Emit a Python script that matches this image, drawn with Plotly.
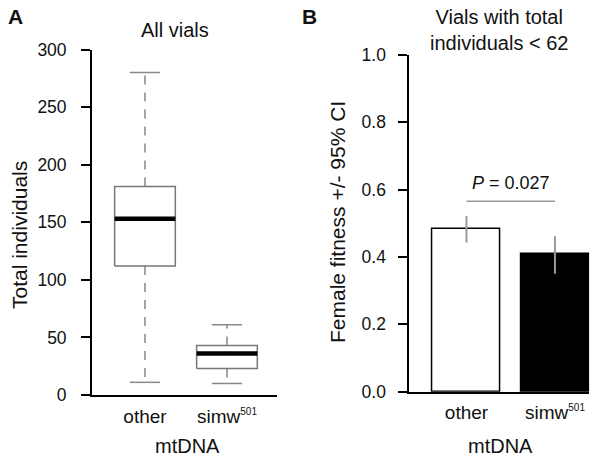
import plotly.graph_objects as go

# ---------------- data ----------------
categories = ["other", "simw<sup><span style='font-size:10px'>501</span></sup>"]
cat_pos = [1, 2]

# Panel A: box-plot summary (Total individuals)
box_lower_whisker = [11, 10]
box_q1 = [112, 23]
box_median = [153, 36]
box_q3 = [181, 43]
box_upper_whisker = [280, 61]
y_ticks_a = [0, 50, 100, 150, 200, 250, 300]

# Panel B: bars (Female fitness +/- 95% CI)
fitness_mean = [0.482, 0.408]
ci_upper = [0.522, 0.462]
ci_lower = [0.443, 0.350]
y_ticks_b = [0.0, 0.2, 0.4, 0.6, 0.8, 1.0]
p_value_label = "<i>P</i> = 0.027"
p_line_y = 0.566

W, H = 600, 461


def px(x):
    return x / W


def py(y):
    return 1 - y / H


FONT = "Liberation Sans, Arial, Helvetica, sans-serif"
TXT = "#111111"
BOX_C = "#777777"
WHISK_C = "#888888"
ERR_C = "#999999"

box_half = 0.37
cap_half = 0.185
bar_width = 0.77

fig = go.Figure()

# ---------- Panel A ----------
for i, x in enumerate(cat_pos):
    for y0, y1 in ((box_q3[i], box_upper_whisker[i]), (box_q1[i], box_lower_whisker[i])):
        fig.add_trace(go.Scatter(x=[x, x], y=[y0, y1], mode="lines",
                                 line=dict(color=WHISK_C, width=1.5, dash="9px,8px"),
                                 xaxis="x", yaxis="y", showlegend=False, hoverinfo="skip"))
    for yv in (box_upper_whisker[i], box_lower_whisker[i]):
        fig.add_trace(go.Scatter(x=[x - cap_half, x + cap_half], y=[yv, yv], mode="lines",
                                 line=dict(color=WHISK_C, width=1.5),
                                 xaxis="x", yaxis="y", showlegend=False, hoverinfo="skip"))
    fig.add_trace(go.Scatter(x=[x - box_half, x + box_half, x + box_half, x - box_half, x - box_half],
                             y=[box_q1[i], box_q1[i], box_q3[i], box_q3[i], box_q1[i]],
                             mode="lines", fill="toself", fillcolor="white",
                             line=dict(color=BOX_C, width=1.5),
                             xaxis="x", yaxis="y", showlegend=False, hoverinfo="skip"))
    fig.add_trace(go.Scatter(x=[x - box_half, x + box_half], y=[box_median[i], box_median[i]],
                             mode="lines", line=dict(color="black", width=4.5),
                             xaxis="x", yaxis="y", showlegend=False, hoverinfo="skip"))

# ---------- Panel B ----------
fig.add_trace(go.Bar(x=cat_pos, y=fitness_mean, width=bar_width,
                     marker=dict(color=["white", "black"], line=dict(color="black", width=1.5)),
                     error_y=dict(type="data", symmetric=False,
                                  array=[u - m for u, m in zip(ci_upper, fitness_mean)],
                                  arrayminus=[m - l for m, l in zip(fitness_mean, ci_lower)],
                                  color=ERR_C, thickness=2, width=0),
                     xaxis="x2", yaxis="y2", showlegend=False, hoverinfo="skip"))
fig.add_trace(go.Scatter(x=cat_pos, y=[p_line_y, p_line_y], mode="lines",
                         line=dict(color=ERR_C, width=1.5),
                         xaxis="x2", yaxis="y2", showlegend=False, hoverinfo="skip"))

axis_common = dict(showgrid=False, zeroline=False, showline=True, linecolor="black",
                   linewidth=1.8, automargin=False)
xfont = dict(family=FONT, size=19, color=TXT)
yfont = dict(family=FONT, size=17.5, color=TXT)

fig.update_layout(
    width=W, height=H, autosize=False,
    margin=dict(l=0, r=0, t=0, b=0, pad=0, autoexpand=False),
    paper_bgcolor="white", plot_bgcolor="white",
    font=dict(family=FONT, color=TXT),
    bargap=0,
    xaxis=dict(domain=[px(92), px(277)], range=[0.354, 2.61], tickvals=cat_pos,
               ticktext=categories, ticks="", anchor="y", tickfont=xfont,
               ticklabelstandoff=3, **axis_common),
    yaxis=dict(domain=[py(395), py(49.5)], range=[0, 300], tickvals=y_ticks_a,
               ticks="outside", ticklen=9, tickwidth=1.8, tickcolor="black",
               ticklabelstandoff=11, anchor="x", tickfont=yfont, **axis_common),
    xaxis2=dict(domain=[px(409.3), px(589.3)], range=[0.354, 2.388], tickvals=cat_pos,
                ticktext=categories, ticks="", anchor="y2", tickfont=xfont,
                ticklabelstandoff=3, **axis_common),
    yaxis2=dict(domain=[py(391.7), py(55)], range=[0, 1], tickvals=y_ticks_b,
                tickformat=".1f", ticks="outside", ticklen=9, tickwidth=1.8,
                tickcolor="black", ticklabelstandoff=9, anchor="x2", tickfont=yfont,
                **axis_common),
)


def ann(text, x, y, size, **kw):
    fig.add_annotation(text=text, x=px(x), y=py(y), xref="paper", yref="paper",
                       showarrow=False, font=dict(family=FONT, size=size, color=TXT),
                       xanchor="center", yanchor="middle", borderpad=0, **kw)


ann("<b>A</b>", 15, 16, 21)
ann("<b>B</b>", 309, 16, 21)
ann("All vials", 175, 30, 20)
ann("Vials with total<br>individuals < 62", 499, 30, 20)
ann("mtDNA", 187, 446, 20)
ann("mtDNA", 500, 446, 20)
ann("Total individuals", 19, 235, 21, textangle=-90)
ann("Female fitness +/- 95% CI", 337, 222, 21, textangle=-90)

fig.add_annotation(text=p_value_label, x=1.5, y=p_line_y, xref="x2", yref="y2",
                   showarrow=False, yanchor="bottom", yshift=6,
                   font=dict(family=FONT, size=18, color=TXT))

# remove the browser's default 8px body margin so the 600x461 figure fills the window
fig.write_html("out.html",
               config={"displayModeBar": False},
               post_script="document.body.style.margin='0px';document.body.style.overflow='hidden';")
